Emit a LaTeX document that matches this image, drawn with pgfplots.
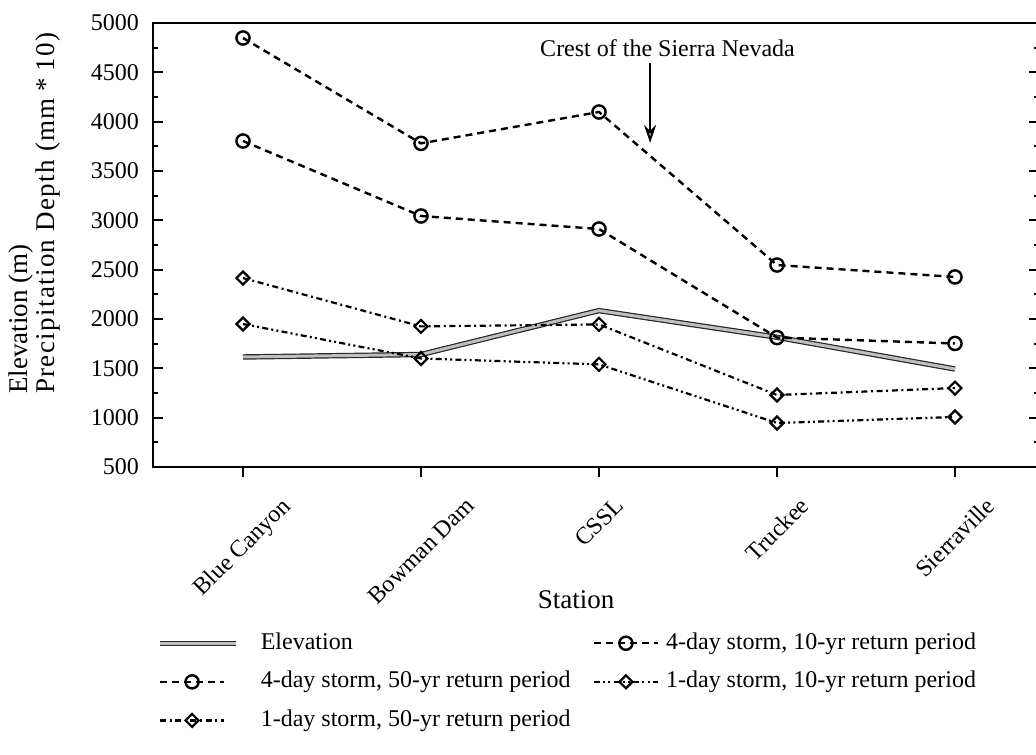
\documentclass[border=0pt]{standalone}
\usepackage{fontspec}
\setmainfont{Liberation Serif}
\usepackage{pgfplots}
\usepackage{pgfplotstable}
\pgfplotsset{compat=1.18}
\usetikzlibrary{arrows.meta}

\pgfplotsset{
  shortlegend/.style={legend image code/.code={\draw[mark repeat=2,mark phase=2,##1] plot coordinates {(0pt,0pt) (16pt,0pt) (32pt,0pt)};}},
  elevlegend/.style={legend image code/.code={\draw[##1] (0pt,0pt) -- (38pt,0pt);}},
}

\pgfplotstableread{
x elev a50 a10 b50 b10
0 1615 4848 3804 2415 1949
1 1640 3780 3044 1925 1600
2 2085 4098 2912 1945 1540
3 1815 2547 1812 1230 946
4 1493 2426 1752 1300 1007
}\datatable

\begin{document}
\begin{tikzpicture}
\useasboundingbox (0pt,0pt) rectangle (518pt,377pt);
\begin{axis}[
  at={(76.5pt,143.5pt)}, anchor=south west,
  scale only axis, width=443pt, height=222pt,
  xmin=-0.5056, xmax=4.472, ymin=500, ymax=5000,
  axis line style={line width=1.2pt},
  xtick={0,1,2,3,4},
  xticklabels={\rotatebox{45}{Blue Canyon},\rotatebox{45}{Bowman Dam},\rotatebox{45}{CSSL},\rotatebox{45}{Truckee},\rotatebox{45}{Sierraville}},
  xtick pos=bottom, xtick align=outside,
  xticklabel style={anchor=north, yshift=-6pt, font=\fontsize{12}{14}\selectfont},
  ytick={500,1000,...,5000},
  minor y tick num=1,
  ytick align=inside,
  major tick length=5pt, minor tick length=2.5pt,
  every tick/.style={black, line width=1pt},
  yticklabel style={xshift=-3.5pt, font=\fontsize{12}{14}\selectfont},
  /pgf/number format/assume math mode=true,
  /pgf/number format/set thousands separator={},
  xlabel={Station},
  xlabel style={at={(axis description cs:0.4775,-0.2995)}, anchor=center, font=\fontsize{13.5}{15}\selectfont},
  ylabel={Elevation (m)\\{\addfontfeatures{LetterSpace=5}Precipitation Depth\hspace{0.3em}(mm\hspace{0.25em}*\hspace{0.25em}10)}},
  ylabel style={at={(axis description cs:-0.134,0.149)}, anchor=west, align=left, font=\fontsize{13.5}{13.5}\selectfont},
  legend columns=2,
  legend cell align=left,
  legend style={at={(axis description cs:0.0045,-0.369)}, anchor=north west,
    draw=none, fill=none, inner sep=0pt, font=\fontsize{12}{14}\selectfont,
    nodes={inner sep=0pt, text height=9pt, text depth=3pt},
    row sep=7.3pt, column sep=0pt,
    /tikz/column 1/.style={column sep=11pt},
    /tikz/column 2/.style={column sep=11pt},
    /tikz/column 3/.style={column sep=3.5pt}},
  shortlegend,
  clip=false,
]
\addplot[draw=black!85, line width=0.6pt, double=gray!50, double distance=1.5pt, elevlegend]
  table[x=x,y=elev]{\datatable};
\addlegendentry{Elevation}
\addplot[black, line width=1.2pt, dash pattern=on 3.5pt off 2.5pt, mark=o, mark size=3.3pt,
  mark options={solid, fill=white}]
  table[x=x,y=a10]{\datatable};
\addlegendentry{4-day storm, 10-yr return period}
\addplot[black, line width=1.2pt, dash pattern=on 3.5pt off 2.5pt, mark=o, mark size=3.3pt,
  mark options={solid, fill=white}]
  table[x=x,y=a50]{\datatable};
\addlegendentry{4-day storm, 50-yr return period}
\addplot[black, line width=1.1pt, dash pattern=on 3pt off 1.6pt on 1pt off 1.6pt on 1pt off 1.6pt, mark=square, mark size=2.3pt,
  mark options={solid, fill=white, rotate=45}]
  table[x=x,y=b10]{\datatable};
\addlegendentry{1-day storm, 10-yr return period}
\addplot[black, line width=1.1pt, dash pattern=on 3pt off 1.8pt on 1pt off 1.8pt, mark=square, mark size=2.3pt,
  mark options={solid, fill=white, rotate=45}]
  table[x=x,y=b50]{\datatable};
\addlegendentry{1-day storm, 50-yr return period}
\node[font=\fontsize{12}{14}\selectfont] at (axis cs:2.385,4747) {Crest of the Sierra Nevada};
\draw[line width=1pt, -{Stealth[length=9pt,width=6pt,fill=gray!50]}] (axis cs:2.287,4595) -- (axis cs:2.287,3784);
\end{axis}
\end{tikzpicture}
\end{document}
